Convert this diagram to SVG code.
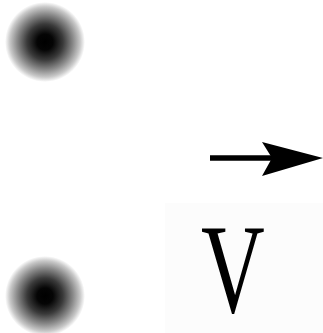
<svg xmlns="http://www.w3.org/2000/svg" width="323" height="333" viewBox="0 0 323 333">
<defs>
<radialGradient id="dot">
<stop offset="0" stop-color="#000"/>
<stop offset="0.2" stop-color="#050505"/>
<stop offset="0.45" stop-color="#3a3a3a"/>
<stop offset="0.7" stop-color="#8a8a8a"/>
<stop offset="0.88" stop-color="#c8c8c8"/>
<stop offset="1" stop-color="#fff"/>
</radialGradient>
<style>
.lbl{font-family:"Liberation Serif","Times New Roman",serif;font-size:128px;fill:#000}
</style>
</defs>
<rect width="323" height="333" fill="#fff"/>
<g id="dot1"><circle cx="45" cy="42" r="40" fill="url(#dot)"/></g>
<g id="dot2"><circle cx="45" cy="296" r="40" fill="url(#dot)"/></g>
<g id="label">
<rect x="165" y="203" width="158" height="130" fill="#fcfcfc"/>
<text class="lbl" transform="translate(233,312) scale(0.69,1)" text-anchor="middle">V</text>
</g>
<g id="connectors">
<line x1="210" y1="158" x2="272" y2="158" stroke="#000" stroke-width="5.5"/>
<path d="M262,142 L323,158 L262,176 L272,158 Z" fill="#000"/>
</g>
</svg>
